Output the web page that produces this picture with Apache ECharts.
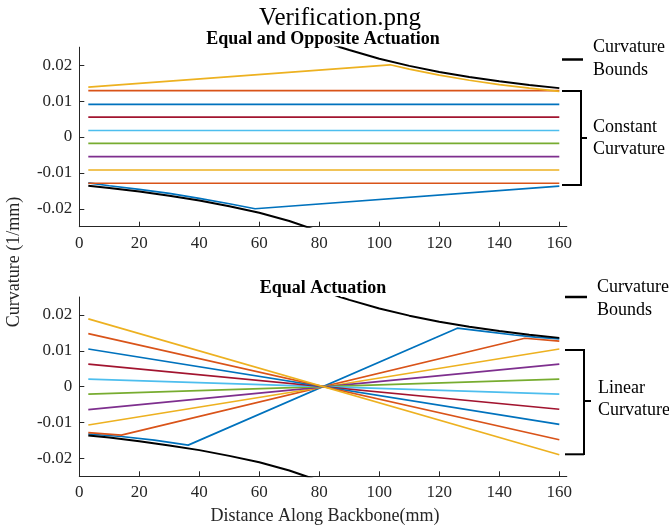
<!DOCTYPE html>
<html>
<head>
<meta charset="utf-8">
<title>Verification</title>
<script src="https://cdn.jsdelivr.net/npm/echarts@6/dist/echarts.min.js"></script>
<style>
  html, body { margin: 0; padding: 0; background: #ffffff; }
  #chart { width: 669px; height: 527px; }
</style>
</head>
<body>
<div id="chart"></div>
<script>
// MATLAB default colour order
const lineColors = ['#0072BD', '#D95319', '#EDB120', '#7E2F8E', '#77AC30', '#4DBEEE', '#A2142F'];

const xTicks = [0, 20, 40, 60, 80, 100, 120, 140, 160];
const yTicks = [-0.02, -0.01, 0, 0.01, 0.02];

// Curvature bounds (1/mm) along the backbone (mm)
const upperBound = [[84, 0.0259], [87, 0.0250], [90, 0.0242], [100, 0.0218], [110, 0.0198], [120, 0.0181], [130, 0.0167], [140, 0.0155], [150, 0.0145], [160, 0.0136]];
const lowerBound = [[3, -0.0136], [10, -0.0142], [20, -0.0152], [30, -0.0164], [40, -0.0177], [50, -0.0193], [60, -0.0211], [70, -0.0234], [78, -0.0257]];

// Equal and opposite actuation: constant curvature profiles
const oppCurves = [
  [[3, -0.0128], [10, -0.0136], [20, -0.0146], [30, -0.0157], [40, -0.0171], [50, -0.0186], [58.6, -0.0200], [160, -0.0137]],
  [[3, -0.0129], [160, -0.0129]],
  [[3, -0.0092], [160, -0.0092]],
  [[3, -0.0055], [160, -0.0055]],
  [[3, -0.0018], [160, -0.0018]],
  [[3, 0.0018], [160, 0.0018]],
  [[3, 0.0055], [160, 0.0055]],
  [[3, 0.0091], [160, 0.0091]],
  [[3, 0.0129], [160, 0.0129]],
  [[3, 0.0139], [103.6, 0.0201], [110, 0.0189], [120, 0.0172], [130, 0.0158], [140, 0.0146], [150, 0.0136], [160, 0.0127]]
];

// Equal actuation: linear curvature profiles
const eqCurves = [
  [[3, -0.0132], [14, -0.0139], [25, -0.0149], [36.3, -0.0163], [126, 0.0163], [135, 0.0154], [145, 0.0144], [152, 0.0138], [160, 0.0133]],
  [[3, -0.0128], [14, -0.0135], [148.5, 0.0135], [160, 0.0127]],
  [[3, -0.0107], [160, 0.0105]],
  [[3, -0.0064], [160, 0.0063]],
  [[3, -0.0021], [160, 0.0021]],
  [[3, 0.0021], [160, -0.0021]],
  [[3, 0.0063], [160, -0.0063]],
  [[3, 0.0105], [160, -0.0105]],
  [[3, 0.0148], [160, -0.0148]],
  [[3, 0.0189], [160, -0.0190]]
];

const axisColor = '#262626';
const serif = 'Liberation Serif, Times New Roman, serif';

function makeX(gridIndex) {
  return {
    type: 'value', gridIndex: gridIndex, min: 0, max: 162.5,
    axisLine: { show: true, onZero: false, lineStyle: { color: axisColor, width: 1 } },
    axisTick: { show: true, inside: true, length: 5, customValues: xTicks, lineStyle: { color: axisColor } },
    axisLabel: { customValues: xTicks, color: axisColor, fontFamily: serif, fontSize: 17, margin: 8 },
    splitLine: { show: false }
  };
}
function makeY(gridIndex) {
  return {
    type: 'value', gridIndex: gridIndex, min: -0.025, max: 0.025,
    axisLine: { show: true, onZero: false, lineStyle: { color: axisColor, width: 1 } },
    axisTick: { show: true, inside: true, length: 5, customValues: yTicks, lineStyle: { color: axisColor } },
    axisLabel: { customValues: yTicks, color: axisColor, fontFamily: serif, fontSize: 17, margin: 7,
                 formatter: v => String(Math.round(v * 100) / 100) },
    splitLine: { show: false }
  };
}
function lineSeries(data, color, gridIndex, width) {
  return {
    type: 'line', xAxisIndex: gridIndex, yAxisIndex: gridIndex, data: data,
    showSymbol: false, symbol: 'none', clip: true, animation: false,
    lineStyle: { color: color, width: width || 1.7 }, silent: true
  };
}

const series = [];
[oppCurves, eqCurves].forEach((set, g) => {
  set.forEach((d, i) => series.push(lineSeries(d, lineColors[i % lineColors.length], g)));
  series.push(lineSeries(upperBound, '#000000', g, 2));
  series.push(lineSeries(lowerBound, '#000000', g, 2));
});

function txt(x, y, s, opts) {
  return {
    type: 'text', x: x, y: y,
    style: Object.assign({ text: s, fill: '#000000', font: '18px ' + serif, textAlign: 'left', textVerticalAlign: 'middle' }, opts || {})
  };
}
function seg(x1, y1, x2, y2, w) {
  return { type: 'line', shape: { x1: x1, y1: y1, x2: x2, y2: y2 }, style: { stroke: '#000000', lineWidth: w || 2 } };
}

const yLabel = txt(14, 262, 'Curvature (1/mm)', { textAlign: 'center', fill: axisColor });
yLabel.rotation = Math.PI / 2;

const graphics = [
  txt(340, 18, 'Verification.png', { font: '25px ' + serif, textAlign: 'center' }),
  txt(323, 39, 'Equal and Opposite Actuation', { font: 'bold 18px ' + serif, textAlign: 'center' }),
  txt(323, 288, 'Equal Actuation', { font: 'bold 18px ' + serif, textAlign: 'center' }),
  yLabel,
  txt(325, 516, 'Distance Along Backbone(mm)', { textAlign: 'center', fill: axisColor }),

  // upper panel annotations
  seg(562, 59.5, 583, 59.5, 2.5),
  txt(593, 47, 'Curvature'), txt(593, 70, 'Bounds'),
  seg(562, 91, 581, 91), seg(581, 90, 581, 186), seg(562, 185, 581, 185), seg(581, 138, 587, 138),
  txt(593, 127, 'Constant'), txt(593, 149, 'Curvature'),

  // lower panel annotations
  seg(565, 297, 587, 297, 2.5),
  txt(597, 287, 'Curvature'), txt(597, 310, 'Bounds'),
  seg(565, 350, 584, 350), seg(584, 349, 584, 455), seg(565, 454.3, 584, 454.3), seg(584, 401, 591, 401),
  txt(598, 388, 'Linear'), txt(598, 410, 'Curvature')
];

const chart = echarts.init(document.getElementById('chart'), null, { renderer: 'canvas' });
chart.setOption({
  backgroundColor: '#ffffff',
  animation: false,
  grid: [
    { left: 79.3, top: 47.2, width: 487.5, height: 179.5, containLabel: false },
    { left: 79.3, top: 297, width: 487.5, height: 179.3, containLabel: false }
  ],
  xAxis: [makeX(0), makeX(1)],
  yAxis: [makeY(0), makeY(1)],
  series: series,
  graphic: graphics
});
</script>
</body>
</html>
